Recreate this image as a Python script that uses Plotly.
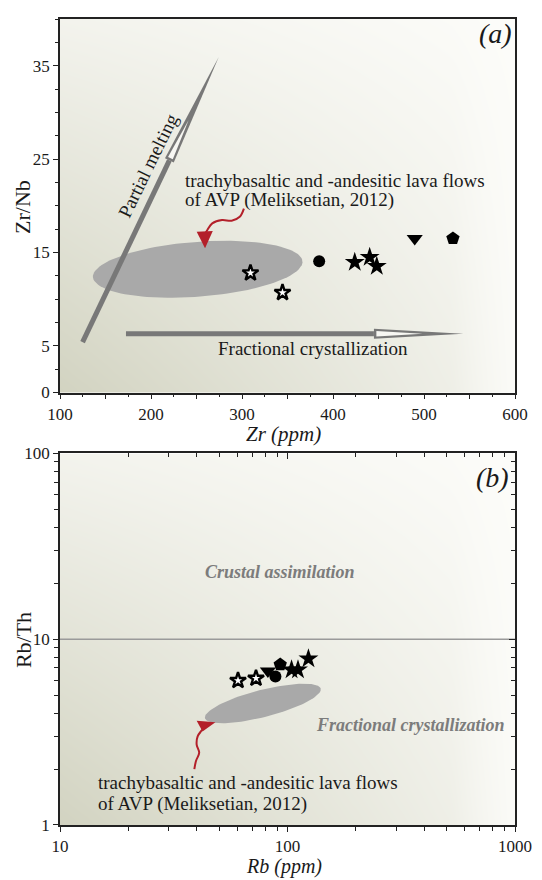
import numpy as np
import plotly.graph_objects as go

# ---------------- data: panel (a) Zr vs Zr/Nb ----------------
zr_open = [309.3, 344.5]
zrnb_open = [12.8, 10.7]
zr_circle = [384.8]
zrnb_circle = [14.05]
zr_star = [423.9, 440.3, 448.1]
zrnb_star = [13.95, 14.48, 13.52]
zr_tri = [489.8]
zrnb_tri = [16.5]
zr_pent = [531.8]
zrnb_pent = [16.5]

# ---------------- data: panel (b) Rb vs Rb/Th ----------------
rb_open = [60.6, 72.7]
rbth_open = [5.99, 6.16]
rb_tri = [82.0]
rbth_tri = [6.75]
rb_circle = [88.5]
rbth_circle = [6.3]
rb_pent = [92.9]
rbth_pent = [7.3]
rb_star = [104.2, 111.2, 123.6]
rbth_star = [6.85, 6.85, 7.86]

# axes
xa_range = [100, 600]
ya_range = [0, 40]
xa_ticks = list(range(100, 601, 50))
xa_labels = [str(v) if v % 100 == 0 else "" for v in xa_ticks]
ya_ticks = [0, 5, 15, 25, 35]
xb_range_log = [1, 3]
yb_range_log = [0, 2]
xb_ticks = [10, 100, 1000]
yb_ticks = [1, 10, 100]
rbth_boundary = 10

# fields (centres in data units)
ell_a_center = (251.3, 13.2)
ell_b_center = (77.9, 4.51)

# ---------------- layout geometry ----------------
W, H = 542, 880
ML, MR, MT, MB = 60, 14, 10, 55
PW, PH = W - ML - MR, H - MT - MB
dom_a = [(H - MB - 387.7) / PH, 1.0]
dom_b = [0.0, (H - MB - 449.3) / PH]
ya_top, ya_bot = MT + PH * (1 - dom_a[1]), MT + PH * (1 - dom_a[0])
yb_top, yb_bot = MT + PH * (1 - dom_b[1]), MT + PH * (1 - dom_b[0])


def a2px(x, y):
    return (ML + (x - xa_range[0]) / (xa_range[1] - xa_range[0]) * PW,
            ya_bot - (y - ya_range[0]) / (ya_range[1] - ya_range[0]) * (ya_bot - ya_top))


def px2a(px, py):
    return (xa_range[0] + (px - ML) / PW * (xa_range[1] - xa_range[0]),
            ya_range[0] + (ya_bot - py) / (ya_bot - ya_top) * (ya_range[1] - ya_range[0]))


def b2px(x, y):
    return (ML + (np.log10(x) - xb_range_log[0]) / 2 * PW,
            yb_bot - (np.log10(y) - yb_range_log[0]) / 2 * (yb_bot - yb_top))


def px2b(px, py):
    return (10 ** (xb_range_log[0] + (px - ML) / PW * 2),
            10 ** (yb_range_log[0] + (yb_bot - py) / (yb_bot - yb_top) * 2))


def ellipse(center, a, b, ang, to_px, to_data, n=120):
    cx, cy = to_px(*center)
    t = np.linspace(0, 2 * np.pi, n)
    th = np.radians(ang)
    ex = a * np.cos(t)
    ey = b * np.sin(t)
    px = cx + ex * np.cos(th) + ey * np.sin(th)
    py = cy - (ex * np.sin(th) + ey * np.cos(th))
    xs, ys = zip(*[to_data(p, q) for p, q in zip(px, py)])
    return list(xs), list(ys)


fig = go.Figure()

# ---------------- background gradient ----------------
def grad(u, v):
    d = (1 - u) * (1 - v) * 1.0 + u * (1 - v) * 0.22 + (1 - u) * v * 0.22
    edge = np.clip((u - 0.86) / 0.14, 0, 1)
    return d * (1 - 0.85 * edge)

uu = np.linspace(0, 1, 90)
vv = np.linspace(0, 1, 90)
U, V = np.meshgrid(uu, vv)
Z = grad(U, V)
cs = [[0, "rgb(252,252,249)"], [1, "rgb(210,211,193)"]]
fig.add_trace(go.Heatmap(x=xa_range[0] + uu * (xa_range[1] - xa_range[0]),
                         y=ya_range[0] + vv * (ya_range[1] - ya_range[0]),
                         z=Z, colorscale=cs, zmin=0, zmax=1, showscale=False,
                         zsmooth="best", hoverinfo="skip", xaxis="x", yaxis="y"))
fig.add_trace(go.Heatmap(x=10 ** (xb_range_log[0] + uu * 2), y=10 ** (yb_range_log[0] + vv * 2),
                         z=Z, colorscale=cs, zmin=0, zmax=1, showscale=False,
                         zsmooth="best", hoverinfo="skip", xaxis="x2", yaxis="y2"))

GRAY = "#787878"
RED = "#b3202a"

# ---------------- panel (a) decorations ----------------
ex, ey = ellipse(ell_a_center, 108, 28, 3.7, a2px, px2a)
fig.add_trace(go.Scatter(x=ex, y=ey, fill="toself", fillcolor="#a9a9a9", line=dict(width=0),
                         mode="lines", hoverinfo="skip", xaxis="x", yaxis="y"))


def open_arrow(tail, tip, t_head, t_hollow, bar_w, head_hw, to_px, to_data, ax, ay):
    p0 = np.array(to_px(*tail)); p1 = np.array(to_px(*tip))
    d = p1 - p0; L = np.linalg.norm(d); u = d / L; nvec = np.array([-u[1], u[0]])
    hb = p0 + d * t_head
    xs, ys = zip(*[to_data(*p) for p in [p0, hb]])
    fig.add_trace(go.Scatter(x=list(xs), y=list(ys), mode="lines", line=dict(color=GRAY, width=bar_w),
                             hoverinfo="skip", xaxis=ax, yaxis=ay))
    outer = [hb + nvec * head_hw, p1, hb - nvec * head_hw]
    xs, ys = zip(*[to_data(*p) for p in outer])
    fig.add_trace(go.Scatter(x=list(xs), y=list(ys), fill="toself", fillcolor=GRAY, line=dict(width=0),
                             mode="lines", hoverinfo="skip", xaxis=ax, yaxis=ay))
    ib = hb + u * 2.5
    it = p0 + d * t_hollow
    inner = [ib + nvec * (head_hw - 2.3), it, ib - nvec * (head_hw - 2.3)]
    xs, ys = zip(*[to_data(*p) for p in inner])
    fig.add_trace(go.Scatter(x=list(xs), y=list(ys), fill="toself", fillcolor="#f7f7f3", line=dict(width=0),
                             mode="lines", hoverinfo="skip", xaxis=ax, yaxis=ay))


open_arrow((124.8, 5.4), (274.3, 35.9), 0.638, 0.78, 5, 5, a2px, px2a, "x", "y")
open_arrow((172.5, 6.29), (543.2, 6.29), 0.735, 0.879, 5, 5, a2px, px2a, "x", "y")

# red curvy arrow (a)
ra_x = [302.1, 297.5, 288.6, 278.0, 267.3, 261.9, 259.3]
ra_y = [19.70, 18.82, 18.40, 18.47, 18.11, 17.41, 17.0]
fig.add_trace(go.Scatter(x=ra_x, y=ra_y, mode="lines", line=dict(color=RED, width=2, shape="spline"),
                         hoverinfo="skip", xaxis="x", yaxis="y"))
rh_x = [250.2, 267.9, 259.4]
rh_y = [17.23, 17.30, 15.46]
fig.add_trace(go.Scatter(x=rh_x, y=rh_y, fill="toself", fillcolor=RED, line=dict(width=0), mode="lines",
                         hoverinfo="skip", xaxis="x", yaxis="y"))

# ---------------- panel (b) decorations ----------------
fig.add_trace(go.Scatter(x=[10 ** xb_range_log[0], 10 ** xb_range_log[1]], y=[rbth_boundary, rbth_boundary],
                         mode="lines", line=dict(color="#9a9a9a", width=1.6), hoverinfo="skip",
                         xaxis="x2", yaxis="y2"))
ex, ey = ellipse(ell_b_center, 61, 15.3, 12.6, b2px, px2b)
fig.add_trace(go.Scatter(x=ex, y=ey, fill="toself", fillcolor="#a9a9a9", line=dict(width=0),
                         mode="lines", hoverinfo="skip", xaxis="x2", yaxis="y2"))
rb_lx = [1.5905, 1.5977, 1.6118, 1.6007, 1.6050, 1.6191, 1.628]
rb_ly = [0.3005, 0.3445, 0.3890, 0.4330, 0.4769, 0.5034, 0.515]
fig.add_trace(go.Scatter(x=[10 ** v for v in rb_lx], y=[10 ** v for v in rb_ly], mode="lines",
                         line=dict(color=RED, width=2, shape="spline"), hoverinfo="skip",
                         xaxis="x2", yaxis="y2"))
rbh_lx = [1.6007, 1.6832, 1.6264]
rbh_ly = [0.5617, 0.5533, 0.5034]
fig.add_trace(go.Scatter(x=[10 ** v for v in rbh_lx], y=[10 ** v for v in rbh_ly], fill="toself",
                         fillcolor=RED, line=dict(width=0), mode="lines", hoverinfo="skip",
                         xaxis="x2", yaxis="y2"))

# ---------------- markers ----------------
def pts(x, y, sym, size, ax, ay, fill="black", lw=0):
    fig.add_trace(go.Scatter(x=x, y=y, mode="markers", hoverinfo="skip", xaxis=ax, yaxis=ay,
                             marker=dict(symbol=sym, size=size, color=fill,
                                         line=dict(color="black", width=lw))))

for ax, ay, d in [("x", "y", [(zr_open, zrnb_open), (zr_circle, zrnb_circle), (zr_star, zrnb_star),
                              (zr_tri, zrnb_tri), (zr_pent, zrnb_pent)]),
                  ("x2", "y2", [(rb_open, rbth_open), (rb_circle, rbth_circle), (rb_star, rbth_star),
                                (rb_tri, rbth_tri), (rb_pent, rbth_pent)])]:
    pts(*d[0], "star", 12, ax, ay, fill="white", lw=2.4)
    pts(*d[1], "circle", 12, ax, ay)
    pts(*d[2], "star", 15, ax, ay)
    pts(*d[3], "triangle-down", 14, ax, ay)
    pts(*d[4], "pentagon", 14, ax, ay)

# dummy trace for the mirrored log axes
fig.add_trace(go.Scatter(x=[None], y=[None], xaxis="x3", yaxis="y3", hoverinfo="skip", showlegend=False))

# ---------------- annotations ----------------
SERIF = "Liberation Serif"
ann = []
def text(x, y, s, size, ax="x", ay="y", color="#1a1a1a", angle=0, xanchor="center", italic=False, bold=False):
    if italic:
        s = "<i>" + s + "</i>"
    if bold:
        s = "<b>" + s + "</b>"
    ann.append(dict(x=x, y=y, xref=ax, yref=ay, text=s, showarrow=False, textangle=angle,
                    xanchor=xanchor, yanchor="middle", font=dict(family=SERIF, size=size, color=color)))

text(578.5, 38.4, "(a)", 28, italic=True)
text(196.9, 24.3, "Partial melting", 19, angle=-64)
text(235.2, 22.7, "trachybasaltic and -andesitic lava flows", 19, xanchor="left")
text(235.2, 20.6, "of AVP (Meliksetian, 2012)", 19, xanchor="left")
text(378.2, 4.7, "Fractional crystallization", 19)

text(2.8996, 1.873, "(b)", 28, "x2", "y2", italic=True)
text(1.969, 1.36, "Crustal assimilation", 18, "x2", "y2", color="#7c7c7c", italic=True, bold=True)
text(2.5416, 0.539, "Fractional crystallization", 18, "x2", "y2", color="#7c7c7c", italic=True, bold=True)
text(1.1568, 0.230, "trachybasaltic and -andesitic lava flows", 19, "x2", "y2", xanchor="left")
text(1.1568, 0.115, "of AVP (Meliksetian, 2012)", 19, "x2", "y2", xanchor="left")

# axis titles (paper coords)
def ptext(px, py, s, size, angle=0, italic=False):
    if italic:
        s = "<i>" + s + "</i>"
    ann.append(dict(x=(px - ML) / PW, y=(MT + PH - py) / PH, xref="paper", yref="paper", text=s,
                    showarrow=False, textangle=angle, xanchor="center", yanchor="middle",
                    font=dict(family=SERIF, size=size, color="#1a1a1a")))

ptext(290, 430, "Zr (ppm)", 21, italic=True)
ptext(290, 867, "Rb (ppm)", 20, italic=True)
ptext(22, 200, "Zr/Nb", 22, angle=-90)
ptext(22, 638, "Rb/Th", 22, angle=-90)

tickfont = dict(family=SERIF, size=17, color="#1a1a1a")
LC = "#222222"
common = dict(showgrid=False, zeroline=False, showline=True, linecolor=LC, linewidth=1.5,
              tickcolor=LC, tickfont=tickfont, ticks="outside")

fig.update_layout(
    width=W, height=H, margin=dict(l=ML, r=MR, t=MT, b=MB),
    paper_bgcolor="white", plot_bgcolor="white", showlegend=False,
    annotations=ann,
    xaxis=dict(domain=[0, 1], anchor="y", range=xa_range, tickvals=xa_ticks, ticktext=xa_labels,
               ticklen=5, mirror=True, minor=dict(dtick=25, tick0=100, ticks="outside", ticklen=3, tickcolor=LC),
               **common),
    yaxis=dict(domain=dom_a, anchor="x", range=ya_range, tickvals=ya_ticks, ticklen=5, mirror=True,
               minor=dict(dtick=2.5, tick0=0, ticks="outside", ticklen=3, tickcolor=LC), **common),
    xaxis2=dict(domain=[0, 1], anchor="y2", type="log", range=xb_range_log, tickvals=xb_ticks,
                ticktext=[str(v) for v in xb_ticks], ticklen=5,
                minor=dict(dtick="D1", ticks="outside", ticklen=4, tickcolor=LC), **common),
    yaxis2=dict(domain=dom_b, anchor="x2", type="log", range=yb_range_log, tickvals=yb_ticks,
                ticktext=[str(v) for v in yb_ticks], ticklen=5,
                minor=dict(dtick="D1", ticks="outside", ticklen=4, tickcolor=LC), **common),
    xaxis3=dict(overlaying="x2", anchor="y2", side="top", type="log", range=xb_range_log,
                showgrid=False, zeroline=False, showline=True, linecolor=LC, linewidth=1.5,
                ticks="inside", ticklen=6, tickcolor=LC, tickvals=xb_ticks, showticklabels=False,
                minor=dict(dtick="D1", ticks="inside", ticklen=4, tickcolor=LC)),
    yaxis3=dict(overlaying="y2", anchor="x2", side="right", type="log", range=yb_range_log,
                showgrid=False, zeroline=False, showline=True, linecolor=LC, linewidth=1.5,
                ticks="inside", ticklen=6, tickcolor=LC, tickvals=yb_ticks, showticklabels=False,
                minor=dict(dtick="D1", ticks="inside", ticklen=4, tickcolor=LC)),
)

fig.write_html("out.html")
